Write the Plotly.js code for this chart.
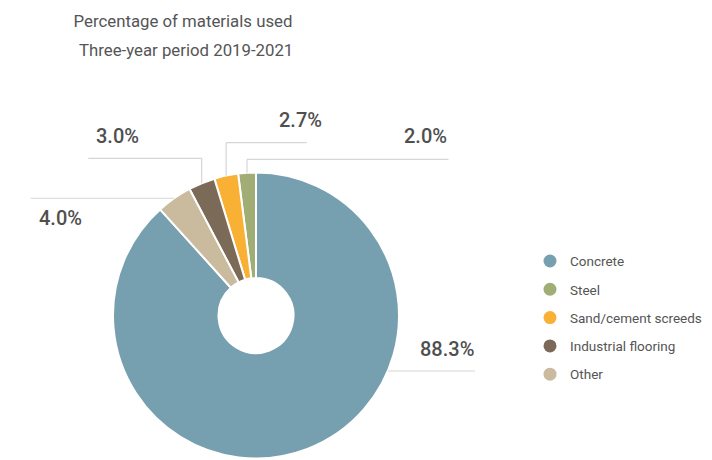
<!DOCTYPE html>
<html><head><meta charset="utf-8">
<script src="https://cdn.plot.ly/plotly-3.0.1.min.js"></script>
<style>html,body{margin:0;padding:0;background:#fff}#chart{width:712px;height:460px}</style>
</head><body><div id="chart"></div>
<script>
// ---- data ----
const categories = ["Concrete", "Steel", "Sand/cement screeds", "Industrial flooring", "Other"];
const shares = [88.3, 2.0, 2.7, 3.0, 4.0];
const labelTexts = ["88.3%", "2.0%", "2.7%", "3.0%", "4.0%"];
const colors = ["#769FB0", "#A0AE76", "#F8B134", "#7B6A57", "#CABA9E"];
const titleLine1 = "Percentage of materials used";
const titleLine2 = "Three-year period 2019-2021";

// ---- layout geometry (pixels) ----
const W = 712, H = 460;
const CX = 256, CY = 315.5, R = 143;
const px = x => x / W, py = y => 1 - y / H;

// callout styles for each label (pixel layout)
const callouts = [
  {mode: 'level', y: 371, endX: 475, tx: 476, ty: 356, anchor: 'right'},
  {mode: 'elbow', elbowY: 159.3, endX: 448.5, tx: 448.5, ty: 143.3, anchor: 'right'},
  {mode: 'elbow', elbowY: 142.7, endX: 306.7, tx: 300.5, ty: 127, anchor: 'center'},
  {mode: 'elbow', elbowY: 158.3, endX: 88.3, tx: 118, ty: 143.3, anchor: 'center'},
  {mode: 'mid', endX: 30.7, tx: 36.7, ty: 225, anchor: 'left'}
];

const total = shares.reduce((a, b) => a + b, 0);
// Plotly counterclockwise placement: first slice spans [0, v0] clockwise from top,
// the rest go counterclockwise from the top.
const mids = [];
let cur = shares[0] / total * 360;
for (let i = 0; i < shares.length; i++) {
  const a1 = cur, a0 = cur - shares[i] / total * 360;
  mids.push((a0 + a1) / 2);
  cur = a0;
}

const lineStyle = {color: '#d6d6d6', width: 1.2};
const shapes = [], annotations = [];
callouts.forEach((c, i) => {
  const rad = mids[i] * Math.PI / 180;
  const ax = CX + R * Math.sin(rad), ay = CY - R * Math.cos(rad);
  if (c.mode === 'elbow') {
    shapes.push({type: 'line', xref: 'paper', yref: 'paper', x0: px(ax), y0: py(ay), x1: px(ax), y1: py(c.elbowY), line: lineStyle});
    shapes.push({type: 'line', xref: 'paper', yref: 'paper', x0: px(ax), y0: py(c.elbowY), x1: px(c.endX), y1: py(c.elbowY), line: lineStyle});
  } else if (c.mode === 'level') {
    const lx = CX + Math.sqrt(R * R - (c.y - CY) * (c.y - CY));
    shapes.push({type: 'line', xref: 'paper', yref: 'paper', x0: px(lx), y0: py(c.y), x1: px(c.endX), y1: py(c.y), line: lineStyle});
  } else {
    shapes.push({type: 'line', xref: 'paper', yref: 'paper', x0: px(ax), y0: py(ay), x1: px(c.endX), y1: py(ay), line: lineStyle});
  }
  annotations.push({
    text: labelTexts[i], showarrow: false, xref: 'paper', yref: 'paper',
    x: px(c.tx), y: py(c.ty - 7), xanchor: c.anchor, yanchor: 'middle',
    font: {family: 'Roboto, sans-serif', size: 20, weight: 500, color: '#4f4f4f'}
  });
});

const TITLE_FONT = {family: 'Roboto, sans-serif', size: 16.8, color: '#555555'};
// second title line
annotations.push({
  text: titleLine2, showarrow: false, xref: 'paper', yref: 'paper',
  x: px(186), y: py(50.5), xanchor: 'center', yanchor: 'middle', font: TITLE_FONT
});

const pie = {
  type: 'pie', values: shares, labels: categories, sort: false,
  direction: 'counterclockwise', rotation: 0, hole: 0.262,
  marker: {colors: colors, line: {color: '#ffffff', width: 2}},
  textinfo: 'none', hoverinfo: 'label+percent', showlegend: false,
  domain: {x: [px(CX - R), px(CX + R)], y: [py(CY + R), py(CY - R)]}
};

const legendTraces = categories.map((name, i) => ({
  type: 'scatter', x: [null], y: [null], mode: 'markers', name: name,
  legendgroup: 'g' + i, showlegend: true, hoverinfo: 'skip',
  marker: {color: colors[i], size: 13, symbol: 'circle'}
}));

const layout = {
  width: W, height: H,
  margin: {l: 0, r: 0, t: 0, b: 0, autoexpand: false},
  paper_bgcolor: '#ffffff', plot_bgcolor: '#ffffff',
  title: {
    text: titleLine1,
    x: px(183), xanchor: 'center', xref: 'container',
    y: py(21.5), yanchor: 'middle', yref: 'container',
    font: TITLE_FONT
  },
  xaxis: {visible: false}, yaxis: {visible: false},
  showlegend: true,
  legend: {
    x: px(530), xanchor: 'left', y: py(245.7), yanchor: 'top',
    font: {family: 'Roboto, sans-serif', size: 13.5, color: '#555555'},
    tracegroupgap: 7.75, bgcolor: 'rgba(0,0,0,0)'
  },
  shapes: shapes, annotations: annotations
};

Plotly.newPlot('chart', [pie].concat(legendTraces), layout, {displayModeBar: false, staticPlot: true});
</script>
</body></html>
